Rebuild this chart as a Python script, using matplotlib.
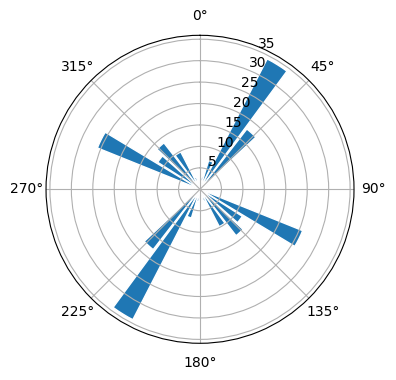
import numpy as np
import matplotlib
matplotlib.use("Agg")
import matplotlib.pyplot as plt

# 34 direction bins (degrees), lengths
directions = [0.0, 10.6, 21.2, 31.8, 42.4, 52.9, 63.5, 74.1, 84.7, 95.3, 105.9,
              116.5, 127.1, 137.6, 148.2, 158.8, 169.4, 180.0, 190.6, 201.2,
              211.8, 222.4, 232.9, 243.5, 254.1, 264.7, 275.3, 285.9, 296.5,
              307.1, 317.6, 328.2, 338.8, 349.4]
counts = [0, 3, 7, 34.2, 17.8, 2, 1, 0, 0, 1, 2,
          25.8, 11.7, 13.7, 9.8, 3, 1, 0, 3, 7,
          34.2, 17.8, 2, 1, 0, 0, 1, 2, 25.8,
          11.7, 13.7, 9.8, 3, 1]
bar_width_deg = 9.1

fig = plt.figure(figsize=(3.96, 3.8), dpi=100)
ax = fig.add_axes([0.1162, 0.0966, 0.7778, 0.8105], projection='polar')
ax.set_theta_zero_location('N')
ax.set_theta_direction(-1)
ax.bar(np.deg2rad(directions), counts, width=np.deg2rad(bar_width_deg),
       color='#1f77b4', edgecolor='white', linewidth=1)
fig.savefig('out.png', dpi=100)
